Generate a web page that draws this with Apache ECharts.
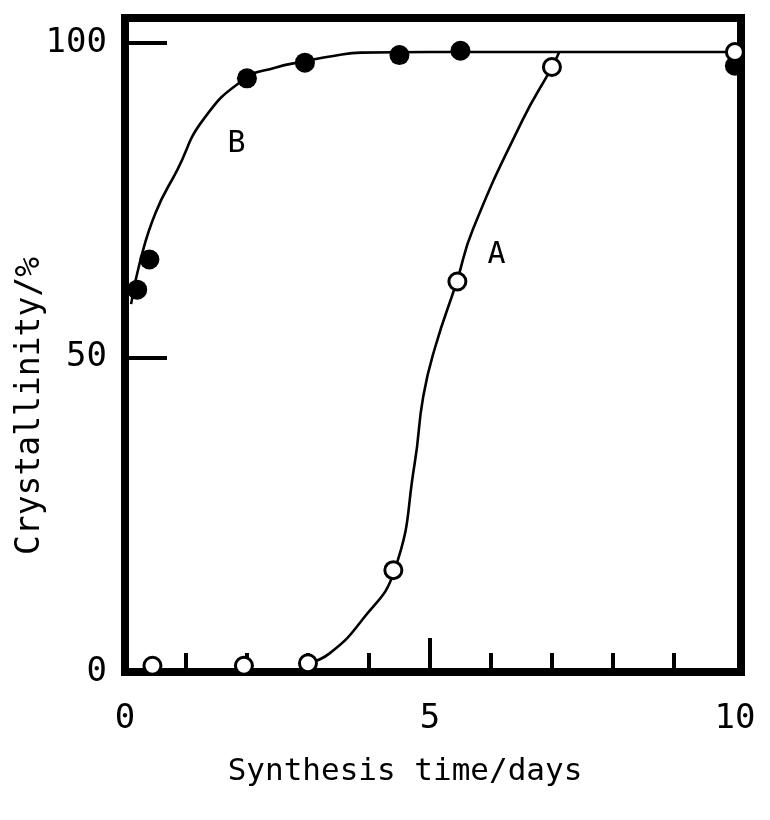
<!DOCTYPE html>
<html>
<head>
<meta charset="utf-8">
<script src="https://cdn.jsdelivr.net/npm/echarts@6/dist/echarts.min.js"></script>
<style>
  html, body { margin: 0; padding: 0; background: #fff; }
  #chart { width: 770px; height: 820px; }
</style>
</head>
<body>
<div id="chart"></div>
<script>
const FONT = '"DejaVu Sans Mono", "Liberation Mono", monospace';

// Sample B (filled circles): synthesis time in days, crystallinity in %
const bDays  = [0.2, 0.4, 2.0, 2.95, 4.5, 5.5, 10];
const bCryst = [60.8, 65.6, 94.4, 96.9, 98.1, 98.8, 96.4];

// Sample A (open circles)
const aDays  = [0.45, 1.95, 3.0, 4.4, 5.45, 7.0, 10];
const aCryst = [1.0, 1.0, 1.4, 16.2, 62.1, 96.2, 98.6];

// Hand-drawn trend curves through each sample
const bCurveDays  = [0.1, 0.24, 0.5, 0.86, 1.28, 1.96, 2.46, 2.94, 3.44, 3.87, 5.0, 10.1];
const bCurveCryst = [58.5, 65.0, 73.0, 79.9, 87.8, 94.3, 96.1, 97.1, 98.0, 98.5, 98.6, 98.6];
const aCurveDays  = [3.0, 3.36, 3.89, 4.42, 4.75, 4.89, 5.09, 5.44, 5.70, 6.52, 7.0, 7.12];
const aCurveCryst = [1.4, 3.0, 8.3, 16.2, 33.2, 43.8, 51.8, 62.1, 70.3, 87.8, 96.2, 98.6];

// Curve labels
const curveNames = ['A', 'B'];
const curveNameDays = [6.09, 1.83];
const curveNameCryst = [66.3, 83.9];

// Axis ticks and labels
const xMinorTicks = [1, 2, 3, 4, 6, 7, 8, 9];
const xMajorTicks = [5];
const xTickLabels = [0, 5, 10];
const yTicks = [50, 100];
const yTickLabels = [0, 50, 100];

const pairs = (xs, ys) => xs.map((x, i) => [x, ys[i]]);

const chart = echarts.init(document.getElementById('chart'), null, { renderer: 'canvas' });

const xBase = {
  type: 'value', min: 0, max: 10.1, position: 'bottom',
  splitLine: { show: false },
  axisLine: { show: false }
};

chart.setOption({
  animation: false,
  backgroundColor: '#fff',
  grid: {
    left: 125, right: 29, top: 18, bottom: 148,
    show: true, borderColor: '#000', borderWidth: 8, backgroundColor: 'transparent'
  },
  xAxis: [
    Object.assign({}, xBase, {
      axisTick: { show: true, inside: true, length: 19, customValues: xMinorTicks,
                  lineStyle: { color: '#000', width: 4 } },
      axisLabel: { show: true, customValues: xTickLabels, margin: 30, color: '#000',
                   fontSize: 34, fontFamily: FONT }
    }),
    Object.assign({}, xBase, {
      axisTick: { show: true, inside: true, length: 34, customValues: xMajorTicks,
                  lineStyle: { color: '#000', width: 4 } },
      axisLabel: { show: false }
    })
  ],
  yAxis: {
    type: 'value', min: 0, max: 104,
    splitLine: { show: false },
    axisLine: { show: false },
    axisTick: { show: true, inside: true, length: 42, customValues: yTicks,
                lineStyle: { color: '#000', width: 4 } },
    axisLabel: { show: true, customValues: yTickLabels, margin: 18, color: '#000',
                 fontSize: 34, fontFamily: FONT }
  },
  graphic: [
    {
      type: 'text', x: 30, y: 406, rotation: Math.PI / 2,
      style: { text: 'Crystallinity/%', fill: '#000', font: '33px ' + FONT,
               align: 'center', verticalAlign: 'middle' }
    },
    {
      type: 'text', x: 405, y: 772,
      style: { text: 'Synthesis time/days', fill: '#000', font: '31px ' + FONT,
               align: 'center', verticalAlign: 'middle' }
    }
  ],
  series: [
    {
      type: 'line', name: 'B curve', data: pairs(bCurveDays, bCurveCryst),
      showSymbol: false, smooth: 0.5,
      lineStyle: { color: '#000', width: 2.6 }, z: 2
    },
    {
      type: 'line', name: 'A curve', data: pairs(aCurveDays, aCurveCryst),
      showSymbol: false, smooth: 0.5,
      lineStyle: { color: '#000', width: 2.6 }, z: 2
    },
    {
      type: 'scatter', name: 'B', data: pairs(bDays, bCryst),
      symbol: 'circle', symbolSize: 20,
      itemStyle: { color: '#000', opacity: 1 }, z: 3
    },
    {
      type: 'scatter', name: 'A', data: pairs(aDays, aCryst),
      symbol: 'circle', symbolSize: 17,
      itemStyle: { color: '#fff', borderColor: '#000', borderWidth: 3, opacity: 1 }, z: 4
    },
    {
      type: 'scatter', name: 'labels', symbolSize: 0, silent: true,
      itemStyle: { opacity: 1 },
      data: curveNames.map((n, i) => ({ name: n, value: [curveNameDays[i], curveNameCryst[i]] })),
      label: { show: true, position: 'inside', formatter: '{b}', color: '#000',
               fontSize: 30, fontFamily: FONT }
    }
  ]
});
</script>
</body>
</html>
